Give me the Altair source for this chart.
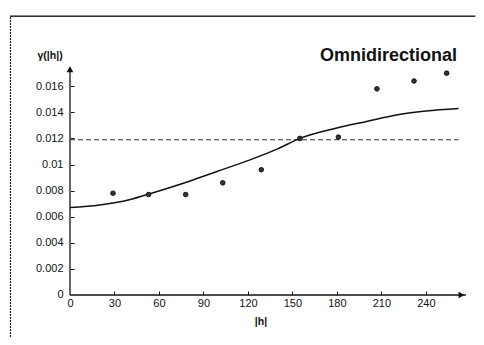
import altair as alt
import pandas as pd

# experimental variogram points
lag = [29, 53, 78, 103, 129, 155, 181, 207, 232, 254]
gamma_exp = [0.0078, 0.0077, 0.0077, 0.0086, 0.0096, 0.0120, 0.0121, 0.0158, 0.0164, 0.0170]

# fitted model curve
model_h = [0, 20, 40, 55, 80, 100, 120, 140, 155, 180, 200, 220, 240, 262]
model_g = [0.0067, 0.0069, 0.0073, 0.0078, 0.0087, 0.0095, 0.0103, 0.0112, 0.0120,
           0.0128, 0.0133, 0.0138, 0.0141, 0.0143]

# sill (dashed)
sill_value = 0.0119
sill_h = [0, 262]

x_ticks = [0, 30, 60, 90, 120, 150, 180, 210, 240]
y_ticks = [0, 0.002, 0.004, 0.006, 0.008, 0.01, 0.012, 0.014, 0.016]

x_axis_end = 267
y_axis_end = 0.0173
x_domain = [-40.46, 273.8]
y_domain = [-0.00322, 0.02146]

W, H = 466, 322
FONT = "Liberation Sans"

xs = alt.Scale(domain=x_domain, nice=False, zero=False)
ys = alt.Scale(domain=y_domain, nice=False, zero=False)

pts = pd.DataFrame({"h": lag, "g": gamma_exp})
model = pd.DataFrame({"h": model_h, "g": model_g})
sill = pd.DataFrame({"h": [sill_h[0]], "h2": [sill_h[1]], "g": [sill_value]})
xline = pd.DataFrame({"h": [0], "h2": [x_axis_end], "g": [0.0]})
yline = pd.DataFrame({"h": [0], "g": [0.0], "g2": [y_axis_end]})
arrows = pd.DataFrame({"h": [264, 0], "g": [0.0, y_axis_end],
                       "shape": ["triangle-right", "triangle-up"]})
ftop = pd.DataFrame({"h": [x_domain[0]], "h2": [x_domain[1] - 0.5], "g": [y_domain[1] - 0.0001]})
fleft = pd.DataFrame({"h": [x_domain[0] + 0.3], "g": [y_domain[0]], "g2": [y_domain[1] - 0.0001]})

# frame lines (top and left)
frame_left = alt.Chart(fleft).mark_rule(color="#222", strokeWidth=1.2, strokeDash=[2, 1]).encode(
    x=alt.X("h:Q", scale=xs, axis=None),
    y=alt.Y("g:Q", scale=ys, axis=None), y2="g2:Q")
frame_top = alt.Chart(ftop).mark_rule(color="#333", strokeWidth=1.6).encode(
    x=alt.X("h:Q", scale=xs, axis=None), x2="h2:Q",
    y=alt.Y("g:Q", scale=ys, axis=None))

# axis lines
x_axis_line = alt.Chart(xline).mark_rule(color="#111", strokeWidth=1.3).encode(
    x=alt.X("h:Q", scale=xs, axis=None), x2="h2:Q",
    y=alt.Y("g:Q", scale=ys, axis=None))
y_axis_line = alt.Chart(yline).mark_rule(color="#666", strokeWidth=2).encode(
    x=alt.X("h:Q", scale=xs, axis=None),
    y=alt.Y("g:Q", scale=ys, axis=None), y2="g2:Q")
arrow_marks = alt.Chart(arrows).mark_point(filled=True, color="#111", size=45, opacity=1).encode(
    x=alt.X("h:Q", scale=xs, axis=None),
    y=alt.Y("g:Q", scale=ys, axis=None),
    shape=alt.Shape("shape:N", scale=None))

# dashed sill line, carrying the tick-only axes
sill_line = alt.Chart(sill).mark_rule(color="#333", strokeWidth=1.2, strokeDash=[5, 3]).encode(
    x=alt.X("h:Q", scale=xs, axis=alt.Axis(
        orient="top", offset=-280, values=x_ticks[1:], labels=False, domain=False,
        grid=False, ticks=True, tickSize=4, tickColor="#111", tickWidth=1, title=None)),
    x2="h2:Q",
    y=alt.Y("g:Q", scale=ys, axis=alt.Axis(
        orient="right", offset=-(W - 60), values=y_ticks[1:], labels=False, domain=False,
        grid=False, ticks=True, tickSize=4, tickColor="#111", tickWidth=1, title=None)))

curve = alt.Chart(model).mark_line(color="#111", strokeWidth=1.5, interpolate="monotone").encode(
    x=alt.X("h:Q", scale=xs, axis=None),
    y=alt.Y("g:Q", scale=ys, axis=None))

points = alt.Chart(pts).mark_point(filled=True, color="#333", stroke="#000", strokeWidth=0.8,
                                   size=22, opacity=1).encode(
    x=alt.X("h:Q", scale=xs, axis=alt.Axis(
        orient="bottom", offset=-42, values=x_ticks, ticks=False, domain=False, grid=False,
        labelPadding=2, labelFontSize=11, labelColor="#111", labelFont=FONT,
        title="|h|", titleX=250.5, titleY=29, titleAlign="center", titleBaseline="alphabetic",
        titleFontSize=10.5, titleFontWeight="bold", titleFont=FONT, titleColor="#111")),
    y=alt.Y("g:Q", scale=ys, axis=alt.Axis(
        orient="left", offset=-60, values=y_ticks, format="~g", ticks=False, domain=False,
        grid=False, labelPadding=7, labelFontSize=11, labelColor="#111", labelFont=FONT,
        title="γ(|h|)", titleAngle=0, titleX=-33, titleY=43, titleAlign="left",
        titleBaseline="alphabetic", titleFontSize=10.5, titleFontWeight="bold",
        titleFont=FONT, titleColor="#111")))

chart = alt.layer(
    frame_left, frame_top, y_axis_line, x_axis_line, sill_line, curve, points, arrow_marks
).resolve_axis(x="independent", y="independent").properties(
    width=W, height=H,
    autosize=alt.AutoSizeParams(type="none"),
    padding={"left": 2, "top": 7, "right": 0, "bottom": 0},
    title=alt.TitleParams("Omnidirectional", anchor="end", orient="top", frame="group",
                          offset=0, dx=-19, dy=64, baseline="alphabetic", fontSize=18,
                          fontWeight="bold", font=FONT, color="#111"),
).configure_view(stroke=None).configure(background="white")

chart.save("out.html", embed_options={"renderer": "svg", "actions": False})
